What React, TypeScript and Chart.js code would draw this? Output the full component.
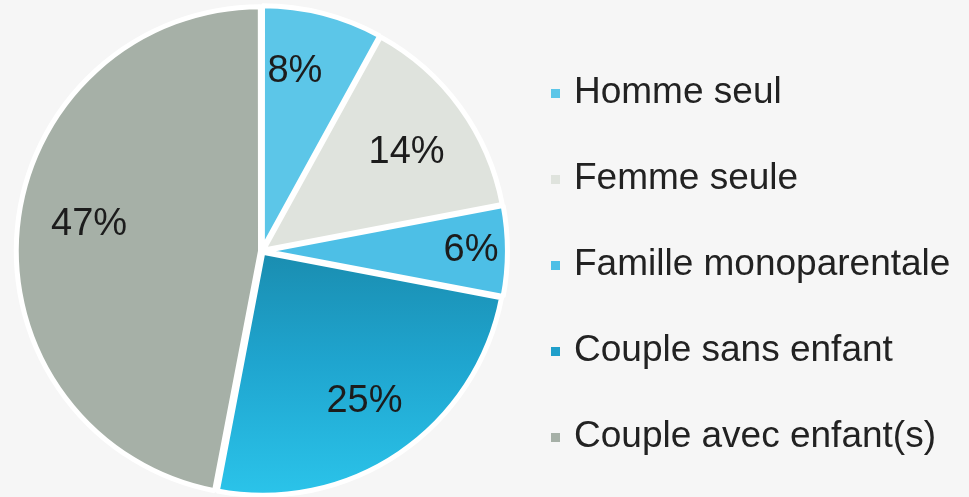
import React, { useEffect, useRef } from "react";
import { Chart, registerables } from "chart.js";

Chart.register(...registerables);

const categories = [
  "Homme seul",
  "Femme seule",
  "Famille monoparentale",
  "Couple sans enfant",
  "Couple avec enfant(s)",
];
const shares = [8, 14, 6, 25, 47];
const valueLabels = ["8%", "14%", "6%", "25%", "47%"];

const sliceColors = ["#5cc6e8", "#dfe3dd", "#4dbfe6", "#1f9fca", "#a6b0a7"];
const labelRadiusFactor = [0.75, 0.72, 0.86, 0.75, 0.72];
const labelAngleShift = [-0.07, 0.03, 0, 0, 0.06];

const BG = "#f6f6f6";

const labelPlugin = {
  id: "sliceLabels",
  afterDatasetsDraw(chart: any) {
    const meta = chart.getDatasetMeta(0);
    const ctx = chart.ctx;
    ctx.save();
    ctx.font = "38px 'Liberation Sans', Arial, sans-serif";
    ctx.fillStyle = "#1c1c1c";
    ctx.textAlign = "center";
    ctx.textBaseline = "middle";
    meta.data.forEach((arc: any, i: number) => {
      const p = arc.getProps(["x", "y", "startAngle", "endAngle", "outerRadius"], true);
      const mid = (p.startAngle + p.endAngle) / 2 + labelAngleShift[i];
      const r = p.outerRadius * labelRadiusFactor[i];
      ctx.fillText(valueLabels[i], p.x + Math.cos(mid) * r, p.y + Math.sin(mid) * r);
    });
    ctx.restore();
  },
};

const legendPlugin = {
  id: "sideLegend",
  afterDraw(chart: any) {
    const ctx = chart.ctx;
    const labels = chart.data.labels as string[];
    const x0 = 551;
    const y0 = 93;
    const step = 86;
    ctx.save();
    ctx.font = "37px 'Liberation Sans', Arial, sans-serif";
    ctx.textBaseline = "middle";
    ctx.textAlign = "left";
    labels.forEach((lab, i) => {
      const y = y0 + i * step;
      ctx.fillStyle = sliceColors[i];
      ctx.fillRect(x0, y - 4, 9, 9);
      ctx.fillStyle = "#222222";
      ctx.fillText(lab, 574, y);
    });
    ctx.restore();
  },
};

export default function App() {
  const ref = useRef<HTMLCanvasElement | null>(null);

  useEffect(() => {
    document.body.style.margin = "0";
    const canvas = ref.current;
    if (!canvas) return;
    const chart = new Chart(canvas, {
      type: "pie",
      data: {
        labels: categories,
        datasets: [
          {
            data: shares,
            backgroundColor: (c: any) => {
              const i = c.dataIndex;
              if (i === 3 && c.chart.chartArea) {
                const a = c.chart.chartArea;
                const g = c.chart.ctx.createLinearGradient(0, (a.top + a.bottom) / 2, 0, a.bottom);
                g.addColorStop(0, "#1a8db0");
                g.addColorStop(0.45, "#1fa5cf");
                g.addColorStop(1, "#2bc4ea");
                return g;
              }
              return sliceColors[i];
            },
            borderColor: "#ffffff",
            borderWidth: 5,
            offset: 6,
            radius: 243,
          } as any,
        ],
      },
      options: {
        animation: false,
        responsive: false,
        maintainAspectRatio: false,
        layout: { padding: { left: 17, right: 462, top: 6, bottom: 1 } },
        plugins: {
          legend: { display: false },
          tooltip: { enabled: false },
        },
      },
      plugins: [labelPlugin, legendPlugin],
    });
    return () => chart.destroy();
  }, []);

  return (
    <div style={{ width: 969, height: 497, background: BG, position: "relative" }}>
      <canvas ref={ref} width={969} height={497} style={{ display: "block" }} />
    </div>
  );
}
